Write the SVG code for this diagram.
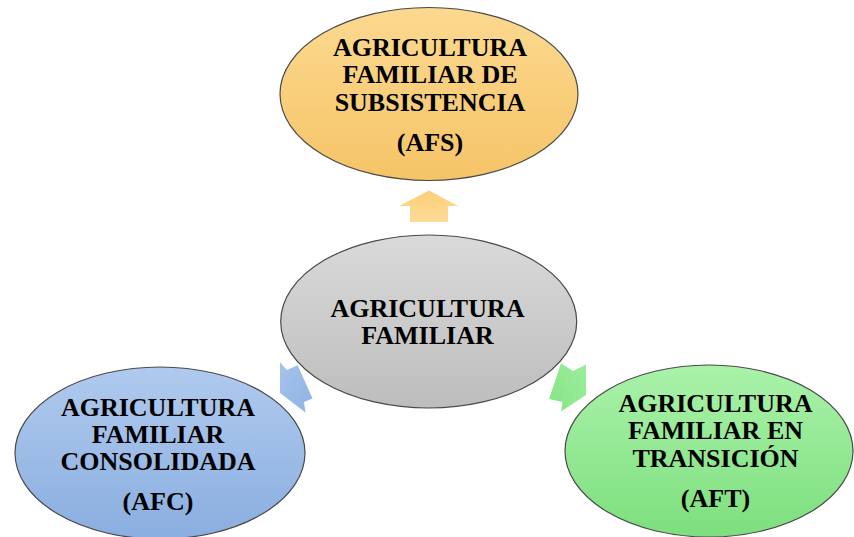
<svg xmlns="http://www.w3.org/2000/svg" width="854" height="537" viewBox="0 0 854 537">
  <defs>
    <linearGradient id="gOrange" x1="0" y1="0" x2="0" y2="1">
      <stop offset="0" stop-color="#fcd990"/>
      <stop offset="1" stop-color="#f6c467"/>
    </linearGradient>
    <linearGradient id="gGray" x1="0" y1="0" x2="0" y2="1">
      <stop offset="0" stop-color="#dadada"/>
      <stop offset="1" stop-color="#bdbdbd"/>
    </linearGradient>
    <linearGradient id="gBlue" x1="0" y1="0" x2="0" y2="1">
      <stop offset="0" stop-color="#b0caee"/>
      <stop offset="1" stop-color="#8aaee0"/>
    </linearGradient>
    <linearGradient id="gGreen" x1="0" y1="0" x2="0" y2="1">
      <stop offset="0" stop-color="#aaf2aa"/>
      <stop offset="1" stop-color="#7ddf7d"/>
    </linearGradient>
    <linearGradient id="aOrange" x1="0" y1="0" x2="0" y2="1">
      <stop offset="0" stop-color="#fccf78"/>
      <stop offset="1" stop-color="#fddb98"/>
    </linearGradient>
    <linearGradient id="aBlue" x1="0" y1="0" x2="1" y2="1">
      <stop offset="0" stop-color="#a6c3ec"/>
      <stop offset="1" stop-color="#8fb2e2"/>
    </linearGradient>
    <linearGradient id="aGreen" x1="1" y1="0" x2="0" y2="1">
      <stop offset="0" stop-color="#9cee9c"/>
      <stop offset="1" stop-color="#86e486"/>
    </linearGradient>
  </defs>
  <style>
    .node { stroke: #4a4a4a; stroke-width: 1.2; }
    .lbl { font-family: "Liberation Serif", "Times New Roman", serif; font-weight: bold; font-size: 26px; fill: #000; text-anchor: middle; }
  </style>
  <rect width="854" height="537" fill="#ffffff"/>

  <g id="connectors">
    <polygon points="429,190.5 458,206 448,206 448,222 410,222 410,206 399,206" fill="url(#aOrange)"/>
    <polygon points="280,362 286.7,370 297.7,365.3 312.5,398.5 304,402 305.5,412.5 280,393" fill="url(#aBlue)"/>
    <polygon points="586,364.5 573,371 561,363.3 549,399 562.5,402 561,411.5 586,395" fill="url(#aGreen)"/>
  </g>

  <g id="node-afs">
    <ellipse class="node" cx="429" cy="94" rx="149" ry="86.5" fill="url(#gOrange)"/>
    <text class="lbl" x="430" y="55.5">AGRICULTURA</text>
    <text class="lbl" x="430" y="83">FAMILIAR DE</text>
    <text class="lbl" x="430" y="110.5">SUBSISTENCIA</text>
    <text class="lbl" x="430" y="151">(AFS)</text>
  </g>

  <g id="node-af">
    <ellipse class="node" cx="428.7" cy="321.5" rx="148" ry="86.5" fill="url(#gGray)"/>
    <text class="lbl" x="427.5" y="317">AGRICULTURA</text>
    <text class="lbl" x="427.5" y="343.5">FAMILIAR</text>
  </g>

  <g id="node-afc">
    <ellipse class="node" cx="160" cy="453" rx="145" ry="86" fill="url(#gBlue)"/>
    <text class="lbl" x="158" y="416">AGRICULTURA</text>
    <text class="lbl" x="158" y="443">FAMILIAR</text>
    <text class="lbl" x="158" y="469.5">CONSOLIDADA</text>
    <text class="lbl" x="158" y="510">(AFC)</text>
  </g>

  <g id="node-aft">
    <ellipse class="node" cx="709" cy="451" rx="144" ry="86" fill="url(#gGreen)"/>
    <text class="lbl" x="715.5" y="411.5">AGRICULTURA</text>
    <text class="lbl" x="715.5" y="439">FAMILIAR EN</text>
    <text class="lbl" x="715.5" y="466.5">TRANSICIÓN</text>
    <text class="lbl" x="715.5" y="506.5">(AFT)</text>
  </g>
</svg>
